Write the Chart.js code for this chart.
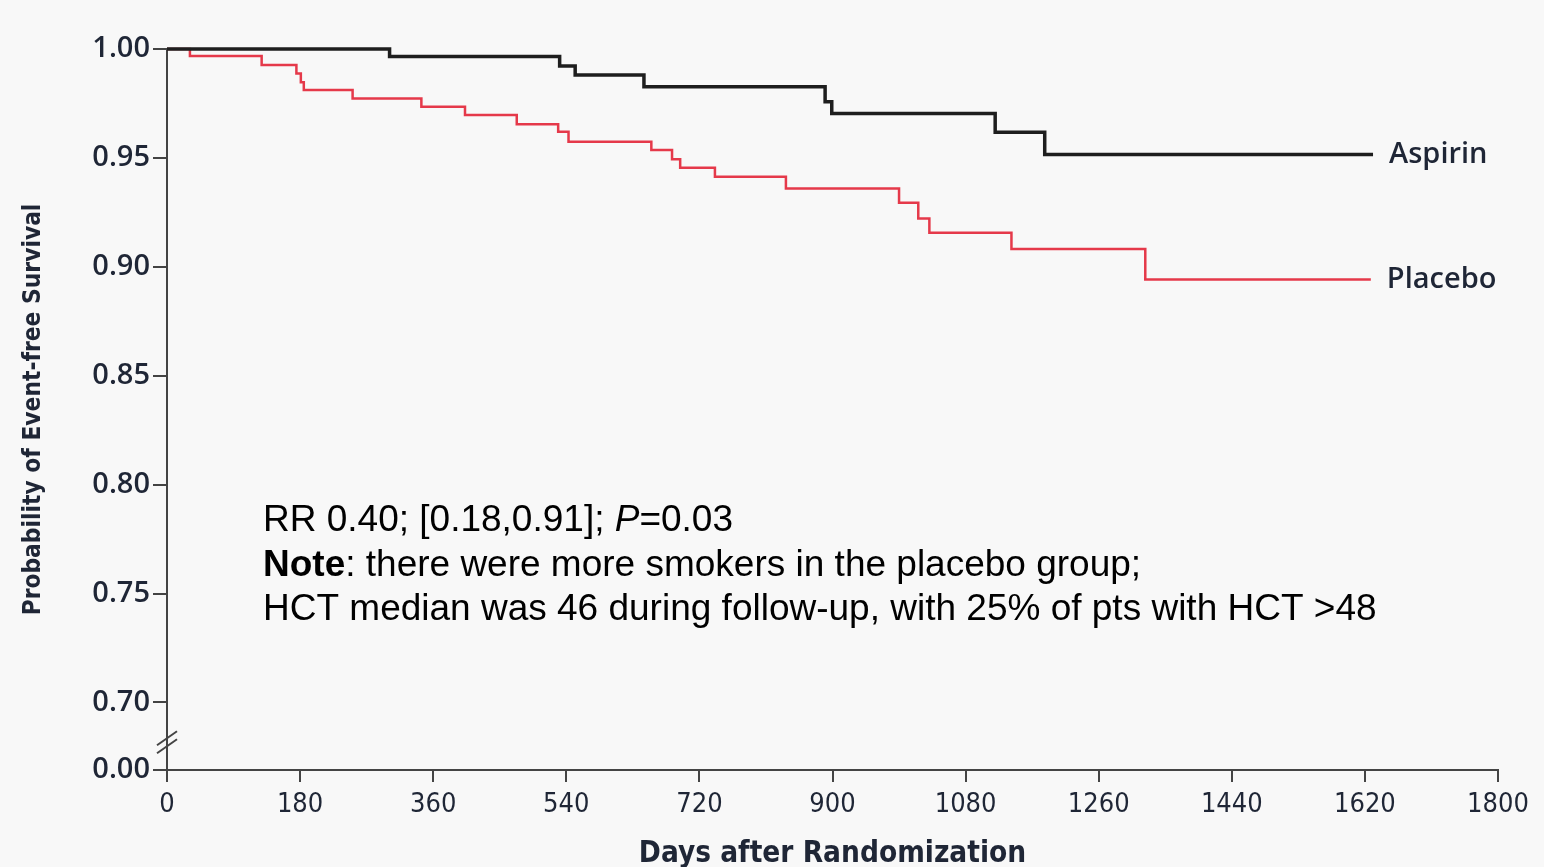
<!DOCTYPE html>
<html>
<head>
<meta charset="utf-8">
<script src="https://cdn.jsdelivr.net/npm/chart.js@4.4.1/dist/chart.umd.min.js"></script>
<style>
  body { margin: 0; background: #f8f8f8; }
  #wrap { width: 1544px; height: 867px; position: relative; }
</style>
</head>
<body>
<div id="wrap"><canvas id="kmChart"></canvas></div>
<script>
// Kaplan-Meier steps (day of event, survival after it)
const aspirinDays = [0, 301, 531, 552, 645, 890, 899, 1120, 1187, 1631];
const aspirinSurv = [1.000, 0.9965, 0.9922, 0.9881, 0.9827, 0.9758, 0.9704, 0.9618, 0.9516, 0.9516];

const placeboDays = [0, 31, 128, 175, 181, 185, 251, 344, 403, 473, 529, 543, 655, 683, 694, 741, 837, 990, 1016, 1031, 1142, 1323, 1628];
const placeboSurv = [1.000, 0.9968, 0.9926, 0.9888, 0.9847, 0.9812, 0.9773, 0.9735, 0.9697, 0.9655, 0.9620, 0.9574, 0.9536, 0.9494, 0.9455, 0.9413, 0.9360, 0.9294, 0.9222, 0.9156, 0.9082, 0.8942, 0.8942];

const xTicks = [0, 180, 360, 540, 720, 900, 1080, 1260, 1440, 1620, 1800];
const yTicks = [0.70, 0.75, 0.80, 0.85, 0.90, 0.95, 1.00];
// bottom of the broken axis, labelled 0.00
const yBreakBottom = 0.669;

const seriesNames = ["Aspirin", "Placebo"];

const toPoints = (days, surv) => days.map((d, i) => ({ x: d, y: surv[i] }));

const labelFont = "'Open Sans', 'DejaVu Sans', sans-serif";
const narrowFont = "'DejaVu Sans Condensed', 'DejaVu Sans', sans-serif";
const inkColor = "#1f2636";

const overlay = {
  id: "overlay",
  afterDatasetsDraw(chart) {
    const ctx = chart.ctx;
    const x = chart.scales.x;
    const y = chart.scales.y;

    // axis break marks
    const bx = x.getPixelForValue(0);
    const by = y.getPixelForValue((yBreakBottom + 0.70) / 2) + 6;
    ctx.save();
    ctx.strokeStyle = "#444";
    ctx.lineWidth = 2;
    [-4, 4].forEach(off => {
      ctx.beginPath();
      ctx.moveTo(bx - 10, by + off + 7);
      ctx.lineTo(bx + 10, by + off - 7);
      ctx.stroke();
    });
    ctx.restore();

    // series labels at the end of each curve
    ctx.save();
    ctx.fillStyle = inkColor;
    ctx.font = "600 29px " + labelFont;
    ctx.textBaseline = "middle";
    chart.data.datasets.forEach((ds, i) => {
      const last = ds.data[ds.data.length - 1];
      ctx.fillText(seriesNames[i], x.getPixelForValue(last.x) + 16, y.getPixelForValue(last.y));
    });
    ctx.restore();

    // note text
    const left = chart.chartArea.left + 96;
    const base = chart.chartArea.top + 482;
    ctx.save();
    ctx.fillStyle = "#000";
    ctx.textBaseline = "alphabetic";
    const f = "37px 'Liberation Sans', Arial, sans-serif";
    const runs = [
      [["RR 0.40; [0.18,0.91]; ", f], ["P", "italic " + f], ["=0.03", f]],
      [["Note", "bold " + f], [": there were more smokers in the placebo group;", f]],
      [["HCT median was 46 during follow-up, with 25% of pts with HCT >48", f]]
    ];
    runs.forEach((line, li) => {
      let cx = left;
      line.forEach(([txt, font]) => {
        ctx.font = font;
        ctx.fillText(txt, cx, base + li * 44.5);
        cx += ctx.measureText(txt).width;
      });
    });
    ctx.restore();
  }
};

new Chart(document.getElementById("kmChart"), {
  type: "line",
  data: {
    datasets: [
      {
        label: seriesNames[0],
        data: toPoints(aspirinDays, aspirinSurv),
        borderColor: "#1e1e1e",
        borderWidth: 3.5,
        stepped: "before",
        pointRadius: 0,
        clip: false
      },
      {
        label: seriesNames[1],
        data: toPoints(placeboDays, placeboSurv),
        borderColor: "#e5394a",
        borderWidth: 2.5,
        stepped: "before",
        pointRadius: 0,
        clip: false
      }
    ]
  },
  options: {
    responsive: true,
    maintainAspectRatio: false,
    animation: false,
    layout: { padding: { top: 49, right: 46, bottom: 0, left: 0 } },
    plugins: {
      legend: { display: false },
      tooltip: { enabled: false }
    },
    scales: {
      x: {
        type: "linear",
        min: 0,
        max: 1800,
        afterBuildTicks: s => { s.ticks = xTicks.map(v => ({ value: v })); },
        afterFit: s => { s.height = 97; },
        border: { display: true, color: "#444", width: 2 },
        grid: { drawOnChartArea: false, drawTicks: true, tickLength: 12, color: "#444", lineWidth: 2 },
        ticks: {
          color: inkColor,
          padding: 7,
          maxRotation: 0,
          font: { family: narrowFont, size: 27 },
          callback: v => String(v)
        },
        title: {
          display: true,
          text: "Days after Randomization",
          color: inkColor,
          padding: { top: 0, bottom: -5 },
          font: { family: narrowFont, size: 29.5, weight: "bold" }
        }
      },
      y: {
        type: "linear",
        min: yBreakBottom,
        max: 1.0,
        afterBuildTicks: s => { s.ticks = [yBreakBottom].concat(yTicks).map(v => ({ value: v })); },
        afterFit: s => { s.width = 167; },
        border: { display: true, color: "#444", width: 2 },
        grid: { drawOnChartArea: false, drawTicks: true, tickLength: 14, color: "#444", lineWidth: 2 },
        ticks: {
          color: inkColor,
          padding: 3,
          font: { family: labelFont, size: 29, weight: "600" },
          callback: v => (v < 0.70 - 1e-6 ? "0.00" : v.toFixed(2))
        },
        title: {
          display: true,
          text: "Probability of Event-free Survival",
          color: inkColor,
          padding: { top: 19, bottom: 0 },
          font: { family: narrowFont, size: 24.3, weight: "bold" }
        }
      }
    }
  },
  plugins: [overlay]
});
</script>
</body>
</html>
